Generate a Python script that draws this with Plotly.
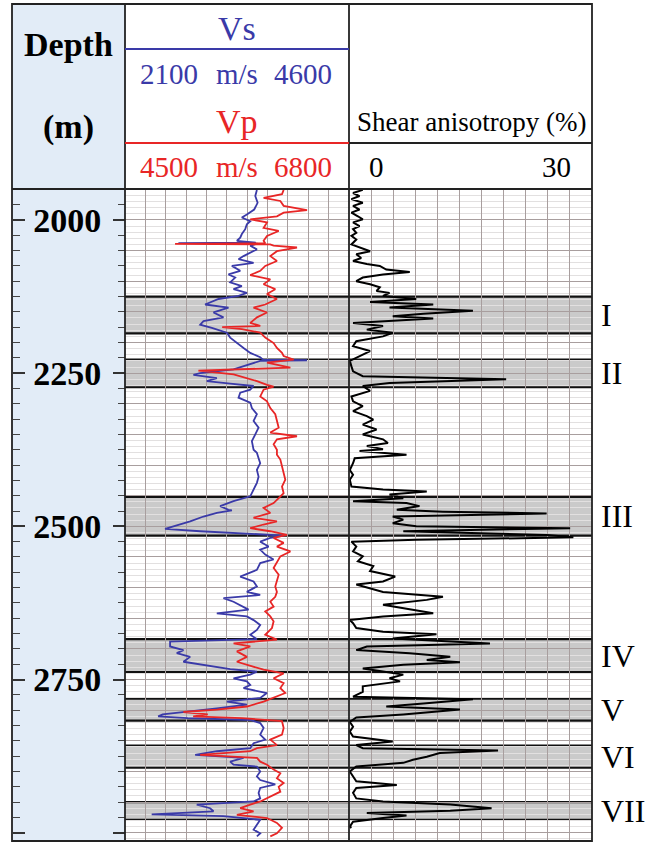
import plotly.graph_objects as go

W, H = 654, 849

# ---- well-log curves: depth (m) and value ----
depth_vs = [1951, 1961, 1972, 1983, 1991, 1996, 2002, 2007, 2015, 2023, 2029, 2034, 2037.2, 2037.9, 2038.6,
            2042, 2048, 2053, 2059, 2064, 2070, 2075, 2083, 2089, 2094, 2102, 2108, 2113, 2119, 2124, 2129,
            2138, 2143, 2151, 2159, 2165, 2171, 2176, 2184, 2192, 2201, 2209, 2217, 2224, 2228, 2229, 2230,
            2239, 2244, 2250, 2253, 2258, 2263, 2267, 2271, 2277, 2282, 2290, 2298, 2307, 2317, 2328, 2339,
            2350, 2361, 2375, 2380, 2389, 2397, 2408, 2419, 2429, 2440, 2451, 2459, 2467, 2473, 2474, 2478,
            2484, 2492, 2499, 2504, 2508, 2512, 2515, 2519, 2525, 2533, 2538, 2546, 2554, 2560, 2571, 2582,
            2590, 2598, 2607, 2612, 2617, 2623, 2631, 2636, 2642, 2647, 2653, 2661, 2669, 2677, 2684, 2688,
            2696, 2702, 2707, 2713, 2721, 2727, 2733, 2737, 2742, 2748, 2753, 2759, 2764, 2772, 2780, 2786,
            2791, 2797, 2803, 2807, 2810, 2813, 2816, 2821, 2829, 2840, 2848, 2854, 2862, 2867, 2873, 2878,
            2884, 2889, 2892, 2900, 2908, 2914, 2921, 2927, 2935, 2944, 2949, 2954, 2960, 2965, 2970, 2973,
            2979, 2987, 2995, 3001, 3006]
vs = [3572, 3554, 3580, 3542, 3460, 3404, 3498, 3460, 3442, 3404, 3386, 3349, 3560, 2696, 3580,
      3498, 3572, 3498, 3423, 3367, 3535, 3293, 3386, 3255, 3330, 3274, 3404, 3311, 3460, 3367, 3144,
      2994, 3255, 3088, 3199, 2976, 2939, 3069, 3237, 3274, 3349, 3423, 3498, 3609, 3640, 4131, 3609,
      3423, 3311, 2939, 2864, 3125, 3013, 3274, 3535, 3498, 3386, 3367, 3498, 3516, 3572, 3535, 3591,
      3554, 3516, 3535, 3572, 3591, 3609, 3572, 3591, 3572, 3535, 3498, 3311, 3162, 3255, 3293, 3125,
      2976, 2827, 2678, 2547, 2939, 3498, 3870, 3721, 3609, 3703, 3609, 3665, 3758, 3609, 3572, 3386,
      3535, 3572, 3460, 3609, 3199, 3311, 3423, 3479, 3125, 3460, 3535, 3609, 3572, 3498, 3572, 2603,
      2603, 2752, 2678, 2827, 2752, 3013, 3274, 3572, 3498, 3311, 3460, 3498, 3423, 3684, 3609, 3237,
      3460, 3125, 2752, 2520, 2470, 2800, 3498, 3609, 3647, 3609, 3665, 3535, 3498, 3125, 2883, 3423,
      3274, 3311, 3572, 3609, 3572, 3609, 3777, 3609, 3591, 3609, 3535, 2901, 3050, 3088, 2398, 3199,
      3609, 3572, 3535, 3609, 3572]

depth_vp = [1951, 1958, 1964, 1969, 1977, 1984, 1988, 1994, 1999, 2004, 2013, 2018, 2026, 2034, 2038.2,
            2039.0, 2039.8, 2042, 2045, 2051, 2059, 2067, 2075, 2083, 2090, 2097, 2105, 2113, 2121, 2129,
            2138, 2143, 2151, 2159, 2168, 2173, 2175, 2178, 2184, 2192, 2201, 2209, 2217, 2222, 2228, 2233,
            2241, 2246, 2252, 2258, 2263, 2269, 2272, 2277, 2288, 2296, 2307, 2317, 2328, 2339, 2347, 2353,
            2358, 2366, 2375, 2383, 2391, 2402, 2413, 2424, 2435, 2446, 2454, 2462, 2470, 2478, 2486, 2492,
            2497, 2503, 2508, 2514, 2519, 2527, 2533, 2541, 2549, 2560, 2568, 2579, 2590, 2598, 2607, 2615,
            2623, 2631, 2639, 2647, 2655, 2666, 2677, 2685, 2691, 2696, 2704, 2713, 2721, 2729, 2734, 2740,
            2748, 2756, 2764, 2772, 2780, 2786, 2794, 2799, 2803, 2807, 2810, 2813, 2818, 2829, 2840, 2848,
            2857, 2862, 2867, 2873, 2878, 2884, 2889, 2897, 2903, 2911, 2919, 2925, 2933, 2941, 2949, 2954,
            2960, 2965, 2971, 2976, 2984, 2992, 3001, 3006]
vp = [6129, 6112, 5923, 6095, 6129, 6369, 6129, 6060, 5786, 5958, 5923, 6078, 5958, 5923, 5940,
      5014, 5990, 6026, 6266, 6060, 5992, 6060, 5940, 5889, 5786, 5992, 5923, 6043, 5958, 6060,
      5940, 5820, 5958, 5855, 5786, 5889, 5498, 5700, 5889, 5940, 6026, 6060, 6112, 6129, 6232, 5958,
      6198, 5254, 5615, 5752, 5855, 5958, 6026, 5923, 5889, 5958, 5992, 6043, 6060, 6078, 5992, 6266,
      6060, 6026, 6060, 6060, 6095, 6112, 6129, 6146, 6112, 6129, 6078, 6026, 5923, 5992, 5820, 6060,
      5923, 5786, 5992, 6163, 6026, 6129, 6060, 6198, 6095, 6060, 6026, 6078, 6060, 6043, 6060, 6043,
      5992, 6026, 5940, 5992, 6026, 6009, 5940, 6060, 5615, 5786, 5649, 5752, 5649, 5820, 5923, 6129,
      6026, 6129, 6095, 6146, 6026, 5923, 5752, 5443, 5100, 5350, 5200, 5700, 6112, 6129, 6112, 5992,
      6060, 5855, 5786, 5272, 5855, 5889, 5958, 6026, 6095, 6060, 6129, 6078, 6095, 5992, 5889, 5786,
      5683, 5820, 5649, 5958, 6060, 6112, 6060, 5992]

depth_sa = [1951, 1956, 1961, 1966, 1972, 1977, 1983, 1988, 1994, 1999, 2004, 2010, 2015, 2021, 2026,
            2032, 2040, 2045, 2051, 2056, 2062, 2067, 2072, 2075, 2081, 2085, 2089, 2094, 2100, 2105,
            2110, 2116, 2119, 2124, 2129, 2134, 2138, 2143, 2148, 2153, 2157, 2161, 2164, 2168, 2173,
            2179, 2184, 2190, 2198, 2206, 2214, 2220, 2224, 2230, 2239, 2247, 2255, 2260, 2266, 2271,
            2279, 2288, 2296, 2304, 2312, 2320, 2326, 2334, 2342, 2350, 2358, 2364, 2369, 2374, 2377,
            2383, 2389, 2397, 2408, 2416, 2424, 2435, 2440, 2443, 2448, 2454, 2459, 2462, 2467, 2473,
            2476, 2479, 2484, 2489, 2495, 2500, 2503, 2508, 2514, 2518, 2522, 2525, 2533, 2541, 2549,
            2557, 2565, 2573, 2582, 2590, 2595, 2601, 2607, 2615, 2620, 2628, 2634, 2642, 2647, 2653,
            2658, 2666, 2672, 2676, 2683, 2691, 2696, 2702, 2707, 2713, 2718, 2722, 2726, 2732, 2737,
            2742, 2748, 2753, 2761, 2770, 2778, 2782, 2789, 2794, 2799, 2805, 2807, 2812, 2819, 2827,
            2835, 2843, 2851, 2857, 2862, 2866, 2870, 2876, 2881, 2886, 2892, 2900, 2908, 2916, 2922,
            2927, 2935, 2944, 2949, 2954, 2960, 2964, 2968, 2972, 2976, 2982, 2990, 2992]
shear_aniso = [1.7, 0.5, 1.3, 0.3, 1.7, 0.5, 1.3, 0.3, 1.1, 1.7, 0.5, 1.3, 0.5, 0.9, 0.3,
               0.9, 0.3, 1.3, 2.6, 0.9, 1.5, 0.5, 2.2, 3.8, 4.6, 7.5, 4.2, 1.7, 0.9, 2.6,
               3.8, 3.4, 5.0, 4.2, 8.3, 2.6, 10.4, 5.0, 15.3, 9.2, 5.4, 10.4, 5.4, 0.5, 4.2,
               2.2, 5.4, 4.2, 0.9, 0.5, 2.6, 1.7, 0.9, 0.1, 0.3, 0.5, 1.7, 19.4, 5.0, 1.7,
               2.6, 0.3, 0.5, 1.7, 0.5, 2.2, 3.0, 1.7, 3.4, 1.7, 4.2, 4.8, 2.2, 4.2, 1.3,
               7.1, 0.7, 0.5, 0.1, 0.5, 0.1, 0.3, 4.2, 9.6, 5.0, 6.7, 0.5, 7.1, 8.7, 5.9,
               11.6, 24.4, 5.4, 6.7, 5.4, 8.3, 27.3, 6.7, 24.4, 27.7, 8.3, 0.3, 0.9, 0.5, 1.7,
               1.1, 3.0, 2.6, 5.7, 4.2, 0.9, 2.6, 4.2, 11.6, 9.6, 4.2, 6.7, 10.4, 4.2, 0.1,
               0.5, 0.9, 4.2, 10.8, 5.4, 17.4, 2.2, 0.9, 7.5, 12.5, 9.6, 13.7, 6.7, 1.7, 4.2,
               6.7, 5.0, 6.3, 1.7, 1.7, 0.5, 15.3, 9.2, 4.6, 13.7, 8.3, 6.7, 0.9, 0.1, 0.5,
               0.1, 0.5, 5.4, 0.9, 1.7, 18.4, 11.2, 9.6, 7.9, 6.7, 0.9, 0.1, 0.5, 0.9, 5.9,
               0.9, 0.5, 0.9, 4.2, 12.5, 17.6, 12.5, 2.2, 7.1, 4.2, 0.5, 0.1, 0.3]

# ---- interpreted fracture zones ----
zone_names = ["I", "II", "III", "IV", "V", "VI", "VII"]
zone_top = [2125, 2228, 2452, 2684, 2781, 2858, 2950]
zone_bottom = [2185, 2273, 2515, 2738, 2817, 2894, 2979]

# ---- scales ----
vs_range = [2100, 4600]
vp_range = [4500, 6800]
sa_range = [0, 30]
depth_range = [3013.5, 1949.5]
depth_tick0, depth_dtick, depth_minor = 2000, 250, 25
n_div = 11

BLUE = "rgb(58,58,168)"
RED = "rgb(232,38,38)"
SERIF = "Liberation Serif"
GRID_MAJOR = "rgb(168,158,158)"
GRID_MINOR = "rgb(226,224,224)"
ZONE_FILL = "rgb(202,202,202)"

# frame layout in pixels
LEFT, TOP, RIGHT, BOTTOM = 12, 4, 592, 841
COL_DEPTH, COL_MID, HEAD_B = 125, 349, 189


def px(x):
    return x / W


def py(y):
    return 1 - y / H


fig = go.Figure()
fig.add_trace(go.Scatter(x=vs, y=depth_vs, xaxis="x", yaxis="y", mode="lines",
                         line=dict(color=BLUE, width=1.8), name="Vs"))
fig.add_trace(go.Scatter(x=vp, y=depth_vp, xaxis="x2", yaxis="y", mode="lines",
                         line=dict(color=RED, width=1.8), name="Vp"))
fig.add_trace(go.Scatter(x=shear_aniso, y=depth_sa, xaxis="x3", yaxis="y2", mode="lines",
                         line=dict(color="black", width=2), name="Shear anisotropy"))
# empty traces that register the two depth-tick axes
fig.add_trace(go.Scatter(x=[], y=[], xaxis="x", yaxis="y3", hoverinfo="skip"))
fig.add_trace(go.Scatter(x=[], y=[], xaxis="x", yaxis="y4", hoverinfo="skip"))

grid_y = dict(range=depth_range, tick0=0, dtick=50, showgrid=True, gridcolor=GRID_MAJOR,
              gridwidth=1, minor=dict(dtick=10, showgrid=True, gridcolor=GRID_MINOR, gridwidth=1),
              ticks="", showticklabels=False, zeroline=False, showline=False,
              domain=[py(BOTTOM), py(HEAD_B)])
tick_style = dict(range=depth_range, overlaying="y", anchor="free", tick0=depth_tick0,
                  dtick=depth_dtick, ticks="outside", ticklen=12, tickwidth=1.5,
                  tickcolor="#333333", showgrid=False, zeroline=False, showline=False,
                  minor=dict(dtick=depth_minor, tick0=0, ticks="outside", ticklen=7,
                             tickwidth=1.3, tickcolor="#444444", showgrid=False))

fig.update_layout(
    width=W, height=H, margin=dict(l=0, r=0, t=0, b=0),
    paper_bgcolor="white", plot_bgcolor="white", showlegend=False,
    xaxis=dict(domain=[px(COL_DEPTH), px(COL_MID)], range=vs_range, tick0=vs_range[0],
               dtick=(vs_range[1] - vs_range[0]) / n_div, showgrid=True, gridcolor=GRID_MAJOR,
               ticks="", showticklabels=False, zeroline=False, anchor="y"),
    xaxis2=dict(overlaying="x", range=vp_range, showgrid=False, ticks="",
                showticklabels=False, zeroline=False, anchor="y"),
    xaxis3=dict(domain=[px(COL_MID), px(RIGHT)], range=sa_range, tick0=0,
                dtick=(sa_range[1] - sa_range[0]) / n_div, showgrid=True, gridcolor=GRID_MAJOR,
                ticks="", showticklabels=False, zeroline=False, anchor="y2"),
    yaxis=dict(anchor="x", **grid_y),
    yaxis2=dict(anchor="x3", **grid_y),
    yaxis3=dict(position=px(COL_DEPTH), side="left", showticklabels=True, ticklabelstandoff=5,
                tickfont=dict(family=SERIF, size=34, color="black", weight="bold"), **tick_style),
    yaxis4=dict(position=px(LEFT), side="right", showticklabels=False, **tick_style),
)

shapes = []
# depth column background
shapes.append(dict(type="rect", xref="paper", yref="paper", x0=px(LEFT), x1=px(COL_DEPTH),
                   y0=py(BOTTOM), y1=py(TOP), fillcolor="rgb(226,236,247)", line_width=0,
                   layer="below"))
# fracture zones
for t, b in zip(zone_top, zone_bottom):
    shapes.append(dict(type="rect", xref="paper", yref="y", x0=px(COL_DEPTH), x1=px(RIGHT),
                       y0=t, y1=b, fillcolor=ZONE_FILL, line_width=0, layer="below"))
    for d in (t, b):
        shapes.append(dict(type="line", xref="paper", yref="y", x0=px(COL_DEPTH), x1=px(RIGHT),
                           y0=d, y1=d, line=dict(color="#111111", width=2.2), layer="between"))
# frame and header rules
frame = dict(color="#222222", width=1.8)
shapes += [
    dict(type="rect", xref="paper", yref="paper", x0=px(LEFT), x1=px(RIGHT), y0=py(BOTTOM),
         y1=py(TOP), line=frame, layer="above"),
    dict(type="line", xref="paper", yref="paper", x0=px(COL_DEPTH), x1=px(COL_DEPTH),
         y0=py(BOTTOM), y1=py(TOP), line=frame, layer="above"),
    dict(type="line", xref="paper", yref="paper", x0=px(COL_MID), x1=px(COL_MID),
         y0=py(BOTTOM), y1=py(TOP), line=frame, layer="above"),
    dict(type="line", xref="paper", yref="paper", x0=px(LEFT), x1=px(RIGHT),
         y0=py(HEAD_B), y1=py(HEAD_B), line=frame, layer="above"),
    dict(type="line", xref="paper", yref="paper", x0=px(COL_DEPTH), x1=px(COL_MID),
         y0=py(49), y1=py(49), line=dict(color=BLUE, width=2), layer="above"),
    dict(type="line", xref="paper", yref="paper", x0=px(COL_DEPTH), x1=px(COL_MID),
         y0=py(143), y1=py(143), line=dict(color=RED, width=2), layer="above"),
    dict(type="line", xref="paper", yref="paper", x0=px(COL_MID), x1=px(RIGHT),
         y0=py(143), y1=py(143), line=frame, layer="above"),
]
fig.update_layout(shapes=shapes)


def label(text, x, y, size, color="black", bold=False, xanchor="center"):
    fig.add_annotation(text=text, xref="paper", yref="paper", x=px(x), y=py(y),
                       xanchor=xanchor, yanchor="middle", showarrow=False,
                       font=dict(family=SERIF, size=size, color=color,
                                 weight="bold" if bold else "normal"))


label("Depth", 68, 44, 34, bold=True)
label("(m)", 68, 127, 34, bold=True)
label("Vs", 237, 28, 34, BLUE)
label("2100", 169, 74, 29, BLUE)
label("m/s", 237, 74, 29, BLUE)
label("4600", 303, 74, 29, BLUE)
label("Vp", 237, 121, 34, RED)
label("4500", 169, 167, 29, RED)
label("m/s", 237, 167, 29, RED)
label("6800", 303, 167, 29, RED)
label("Shear anisotropy (%)", 471, 122, 27)
label("0", 376, 167, 29)
label("30", 556, 167, 29)

for name, t, b in zip(zone_names, zone_top, zone_bottom):
    fig.add_annotation(text=name, xref="paper", yref="y", x=px(599), y=(t + b) / 2,
                       xanchor="left", yanchor="middle", showarrow=False,
                       font=dict(family=SERIF, size=32, color="black"))

fig.write_html("out.html")
